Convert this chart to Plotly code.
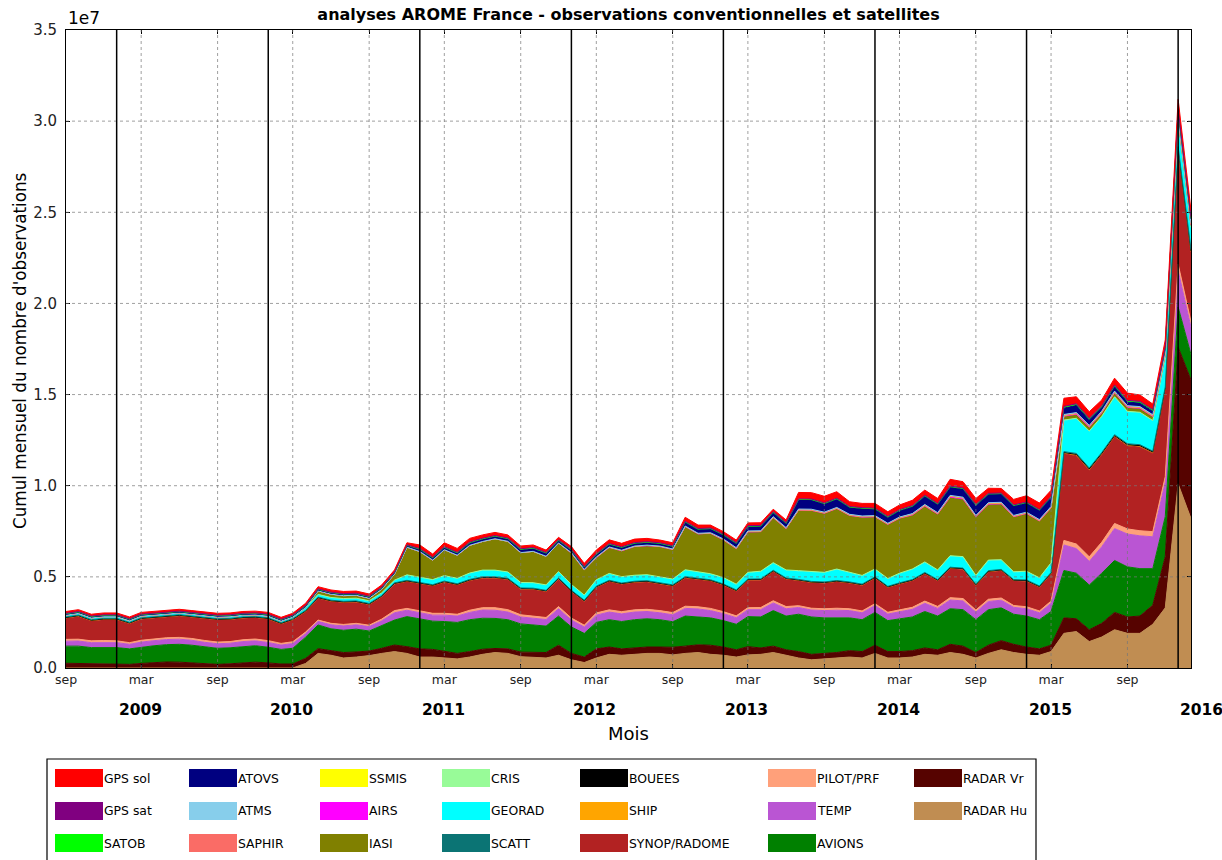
import pandas as pd
import plotly.graph_objects as go

# ---------------------------------------------------------------------------
# Monthly number of observations used by AROME France analyses (millions)
# Sep 2008 .. Feb 2016, one value per month
# ---------------------------------------------------------------------------
months = pd.date_range("2008-09-01", "2016-02-01", freq="MS")

RADAR_HU = [
    0, 0, 0, 0,
    0, 0, 0, 0, 0, 0, 0, 0, 0, 0, 0, 0,
    0, 0, 0, 0.25, 0.80, 0.70, 0.55, 0.60, 0.68, 0.80, 0.90, 0.80,
    0.60, 0.60, 0.55, 0.50, 0.60, 0.75, 0.85, 0.80, 0.62, 0.58, 0.55, 0.70,
    0.45, 0.30, 0.55, 0.75, 0.70, 0.75, 0.80, 0.80, 0.72, 0.80, 0.85, 0.75,
    0.70, 0.60, 0.72, 0.75, 0.85, 0.70, 0.55, 0.45, 0.50, 0.55, 0.60, 0.55,
    0.80, 0.55, 0.55, 0.60, 0.75, 0.70, 0.85, 0.75, 0.55, 0.80, 1.00, 0.85,
    0.75, 0.70, 0.90, 1.90, 2.00, 1.45, 1.70, 2.10, 1.90, 1.90, 2.40, 3.30,
    10.1, 8.2]

RADAR_VR = [
    0.26, 0.25, 0.22, 0.22,
    0.22, 0.20, 0.25, 0.30, 0.33, 0.32, 0.28, 0.22, 0.20, 0.23, 0.28, 0.32,
    0.28, 0.22, 0.22, 0.28, 0.26, 0.25, 0.30, 0.28, 0.25, 0.28, 0.36, 0.37,
    0.45, 0.42, 0.35, 0.30, 0.30, 0.28, 0.22, 0.25, 0.25, 0.28, 0.30, 0.55,
    0.35, 0.30, 0.50, 0.40, 0.35, 0.35, 0.35, 0.35, 0.42, 0.40, 0.42, 0.50,
    0.45, 0.40, 0.45, 0.35, 0.35, 0.30, 0.35, 0.30, 0.30, 0.30, 0.35, 0.35,
    0.45, 0.35, 0.35, 0.35, 0.35, 0.30, 0.45, 0.45, 0.30, 0.45, 0.50, 0.45,
    0.40, 0.35, 0.35, 0.85, 0.70, 0.65, 0.75, 0.95, 0.90, 0.95, 1.05, 2.80,
    7.5, 7.6]

AVIONS = [
    0.94, 0.95, 0.90, 0.92,
    0.90, 0.85, 0.90, 0.92, 0.95, 0.98, 0.97, 0.93, 0.88, 0.88, 0.90, 0.90,
    0.86, 0.80, 0.86, 1.16, 1.30, 1.20, 1.22, 1.25, 1.10, 1.25, 1.37, 1.65,
    1.65, 1.55, 1.65, 1.70, 1.75, 1.70, 1.65, 1.60, 1.55, 1.50, 1.45, 1.60,
    1.45, 1.30, 1.45, 1.50, 1.50, 1.55, 1.55, 1.50, 1.40, 1.65, 1.55, 1.50,
    1.45, 1.40, 1.65, 1.70, 1.95, 1.85, 2.05, 2.05, 1.95, 1.90, 1.80, 1.75,
    1.80, 1.70, 1.80, 1.85, 2.00, 1.85, 1.95, 2.00, 1.80, 1.95, 1.80, 1.65,
    1.70, 1.60, 1.85, 2.60, 2.50, 2.45, 2.75, 2.85, 2.75, 2.60, 2.00, 2.20,
    2.2, 1.4]

TEMP = [
    0.27, 0.28, 0.27, 0.27,
    0.27, 0.25, 0.27, 0.28, 0.28, 0.28, 0.27, 0.26, 0.25, 0.25, 0.27, 0.27,
    0.26, 0.24, 0.26, 0.20, 0.20, 0.22, 0.24, 0.24, 0.24, 0.26, 0.40, 0.35,
    0.32, 0.33, 0.35, 0.35, 0.40, 0.45, 0.45, 0.42, 0.38, 0.38, 0.36, 0.40,
    0.38, 0.35, 0.40, 0.42, 0.42, 0.42, 0.40, 0.38, 0.38, 0.42, 0.42, 0.40,
    0.38, 0.36, 0.38, 0.40, 0.42, 0.40, 0.37, 0.38, 0.40, 0.42, 0.40, 0.38,
    0.38, 0.36, 0.40, 0.42, 0.45, 0.42, 0.48, 0.48, 0.42, 0.45, 0.42, 0.38,
    0.40, 0.38, 0.45, 1.40, 1.35, 1.30, 1.45, 1.75, 1.80, 1.80, 1.75, 1.90,
    2.0, 1.5]

PILOT_PRF = [
    0.10, 0.10, 0.10, 0.10,
    0.10, 0.09, 0.10, 0.10, 0.10, 0.10, 0.10, 0.10, 0.09, 0.09, 0.10, 0.10,
    0.10, 0.09, 0.10, 0.08, 0.07, 0.08, 0.08, 0.08, 0.08, 0.09, 0.12, 0.10,
    0.10, 0.10, 0.10, 0.10, 0.12, 0.13, 0.14, 0.13, 0.12, 0.12, 0.11, 0.12,
    0.11, 0.10, 0.12, 0.12, 0.12, 0.12, 0.12, 0.12, 0.12, 0.12, 0.12, 0.12,
    0.11, 0.10, 0.11, 0.12, 0.12, 0.12, 0.10, 0.10, 0.10, 0.11, 0.10, 0.10,
    0.10, 0.10, 0.10, 0.11, 0.12, 0.11, 0.13, 0.13, 0.11, 0.12, 0.12, 0.10,
    0.11, 0.10, 0.12, 0.25, 0.25, 0.25, 0.25, 0.28, 0.28, 0.28, 0.28, 0.30,
    0.35, 0.30]

SYNOP_RADOME = [
    1.16, 1.25, 1.09, 1.14,
    1.16, 1.04, 1.16, 1.15, 1.15, 1.17, 1.16, 1.20, 1.21, 1.20, 1.18, 1.16,
    1.18, 1.06, 1.19, 1.12, 1.19, 1.20, 1.20, 1.16, 1.12, 1.22, 1.45, 1.47,
    1.50, 1.50, 1.70, 1.60, 1.62, 1.62, 1.62, 1.65, 1.40, 1.45, 1.42, 1.50,
    1.45, 1.30, 1.40, 1.55, 1.50, 1.50, 1.50, 1.45, 1.45, 1.55, 1.50, 1.50,
    1.45, 1.35, 1.50, 1.50, 1.60, 1.50, 1.37, 1.40, 1.40, 1.45, 1.40, 1.40,
    1.40, 1.35, 1.40, 1.45, 1.50, 1.40, 1.60, 1.60, 1.35, 1.50, 1.50, 1.35,
    1.40, 1.30, 1.50, 4.75, 4.85, 4.75, 4.80, 4.75, 4.55, 4.60, 4.30, 4.80,
    6.3, 3.8]

SHIP = [
    0.03, 0.03, 0.03, 0.03,
    0.03, 0.03, 0.03, 0.03, 0.03, 0.03, 0.03, 0.03, 0.03, 0.03, 0.03, 0.03,
    0.03, 0.03, 0.03, 0.03, 0.03, 0.03, 0.03, 0.03, 0.03, 0.03, 0.03, 0.03,
    0.03, 0.03, 0.03, 0.03, 0.03, 0.03, 0.03, 0.03, 0.03, 0.03, 0.03, 0.03,
    0.03, 0.03, 0.03, 0.03, 0.03, 0.03, 0.03, 0.03, 0.03, 0.03, 0.03, 0.03,
    0.03, 0.03, 0.03, 0.03, 0.03, 0.03, 0.03, 0.03, 0.03, 0.03, 0.03, 0.03,
    0.03, 0.03, 0.03, 0.03, 0.03, 0.03, 0.03, 0.03, 0.03, 0.03, 0.03, 0.03,
    0.03, 0.03, 0.03, 0.05, 0.05, 0.05, 0.05, 0.05, 0.05, 0.05, 0.05, 0.05,
    0.06, 0.06]

BOUEES = [
    0.01, 0.01, 0.01, 0.01,
    0.01, 0.01, 0.01, 0.01, 0.01, 0.01, 0.01, 0.01, 0.01, 0.01, 0.01, 0.01,
    0.01, 0.01, 0.01, 0.01, 0.01, 0.01, 0.01, 0.01, 0.01, 0.01, 0.01, 0.01,
    0.01, 0.01, 0.01, 0.01, 0.01, 0.01, 0.01, 0.01, 0.01, 0.01, 0.01, 0.01,
    0.01, 0.01, 0.01, 0.01, 0.01, 0.01, 0.01, 0.01, 0.01, 0.01, 0.01, 0.01,
    0.01, 0.01, 0.01, 0.01, 0.01, 0.01, 0.01, 0.01, 0.01, 0.01, 0.01, 0.01,
    0.01, 0.01, 0.01, 0.01, 0.01, 0.01, 0.01, 0.01, 0.01, 0.01, 0.01, 0.01,
    0.01, 0.01, 0.01, 0.02, 0.02, 0.02, 0.02, 0.02, 0.02, 0.02, 0.02, 0.02,
    0.02, 0.02]

SCATT = [
    0.03, 0.03, 0.03, 0.03,
    0.03, 0.03, 0.03, 0.03, 0.03, 0.03, 0.03, 0.03, 0.03, 0.03, 0.03, 0.03,
    0.03, 0.03, 0.03, 0.03, 0.03, 0.03, 0.03, 0.03, 0.03, 0.03, 0.03, 0.03,
    0.03, 0.03, 0.03, 0.03, 0.03, 0.03, 0.03, 0.03, 0.03, 0.03, 0.03, 0.03,
    0.03, 0.03, 0.03, 0.03, 0.03, 0.03, 0.03, 0.03, 0.03, 0.03, 0.03, 0.03,
    0.03, 0.03, 0.03, 0.03, 0.03, 0.03, 0.03, 0.03, 0.03, 0.03, 0.03, 0.03,
    0.03, 0.03, 0.03, 0.03, 0.03, 0.03, 0.03, 0.03, 0.03, 0.03, 0.03, 0.03,
    0.03, 0.03, 0.03, 0.05, 0.05, 0.05, 0.05, 0.05, 0.05, 0.05, 0.05, 0.05,
    0.07, 0.07]

GEORAD = [
    0.10, 0.10, 0.10, 0.10,
    0.10, 0.10, 0.10, 0.10, 0.10, 0.10, 0.10, 0.10, 0.10, 0.10, 0.10, 0.10,
    0.10, 0.10, 0.10, 0.15, 0.15, 0.15, 0.15, 0.15, 0.15, 0.15, 0.15, 0.30,
    0.30, 0.28, 0.30, 0.30, 0.35, 0.37, 0.37, 0.35, 0.30, 0.30, 0.30, 0.35,
    0.32, 0.28, 0.35, 0.38, 0.35, 0.33, 0.33, 0.32, 0.32, 0.38, 0.36, 0.33,
    0.33, 0.30, 0.35, 0.40, 0.40, 0.42, 0.45, 0.50, 0.50, 0.60, 0.50, 0.45,
    0.40, 0.40, 0.50, 0.55, 0.55, 0.50, 0.60, 0.60, 0.45, 0.55, 0.50, 0.40,
    0.45, 0.42, 0.50, 1.70, 1.90, 2.00, 1.95, 2.05, 1.75, 1.75, 1.65, 1.60,
    1.4, 1.2]

CRIS = [
    0, 0, 0, 0,
    0, 0, 0, 0, 0, 0, 0, 0, 0, 0, 0, 0,
    0, 0, 0, 0, 0, 0, 0, 0, 0, 0, 0, 0,
    0, 0, 0, 0, 0, 0, 0, 0, 0, 0, 0, 0,
    0, 0, 0, 0, 0, 0, 0, 0, 0, 0, 0, 0,
    0.02, 0.02, 0.02, 0.02, 0.02, 0.02, 0.03, 0.03, 0.03, 0.03, 0.03, 0.03,
    0.03, 0.03, 0.03, 0.03, 0.03, 0.03, 0.03, 0.03, 0.03, 0.03, 0.03, 0.03,
    0.03, 0.03, 0.03, 0.03, 0.03, 0.03, 0.03, 0.03, 0.03, 0.03, 0.03, 0.03,
    0.03, 0.03]

IASI = [
    0, 0, 0, 0,
    0, 0, 0, 0, 0, 0, 0, 0, 0, 0, 0, 0,
    0, 0, 0, 0, 0.18, 0.17, 0.15, 0.15, 0.13, 0.19, 0.32, 1.50,
    1.38, 1.05, 1.40, 1.25, 1.50, 1.55, 1.70, 1.66, 1.62, 1.70, 1.55, 1.55,
    1.70, 1.36, 1.20, 1.40, 1.40, 1.55, 1.57, 1.65, 1.60, 2.35, 2.05, 2.20,
    2.05, 1.93, 2.20, 2.15, 2.45, 2.25, 3.30, 3.35, 3.22, 3.30, 3.10, 3.18,
    2.85, 2.95, 3.00, 2.95, 3.05, 3.05, 3.20, 3.15, 3.20, 3.05, 3.05, 3.00,
    3.15, 3.10, 3.00, 0.20, 0.20, 0.20, 0.18, 0.20, 0.20, 0.20, 0.20, 0.15,
    0.10, 0.10]

AIRS = [
    0, 0, 0, 0,
    0, 0, 0, 0, 0, 0, 0, 0, 0, 0, 0, 0,
    0, 0, 0, 0.01, 0.01, 0.01, 0.01, 0.01, 0.01, 0.01, 0.01, 0.02,
    0.02, 0.02, 0.02, 0.02, 0.02, 0.02, 0.02, 0.02, 0.02, 0.02, 0.02, 0.02,
    0.02, 0.02, 0.02, 0.02, 0.02, 0.02, 0.02, 0.02, 0.02, 0.02, 0.02, 0.02,
    0.02, 0.02, 0.02, 0.02, 0.02, 0.02, 0.02, 0.02, 0.02, 0.02, 0.02, 0.02,
    0.02, 0.02, 0.02, 0.02, 0.02, 0.02, 0.02, 0.02, 0.02, 0.02, 0.02, 0.02,
    0.02, 0.02, 0.02, 0.02, 0.02, 0.02, 0.02, 0.02, 0.02, 0.02, 0.02, 0.02,
    0.02, 0.02]

SSMIS = [
    0, 0, 0, 0,
    0, 0, 0, 0, 0, 0, 0, 0, 0, 0, 0, 0,
    0, 0, 0, 0, 0, 0, 0, 0, 0, 0, 0, 0,
    0, 0, 0, 0, 0, 0, 0, 0, 0, 0, 0, 0,
    0.02, 0.02, 0.02, 0.02, 0.02, 0.02, 0.02, 0.02, 0.02, 0.02, 0.02, 0.02,
    0.02, 0.02, 0.02, 0.02, 0.02, 0.02, 0.02, 0.02, 0.02, 0.02, 0.02, 0.02,
    0.02, 0.02, 0.02, 0.03, 0.04, 0.03, 0.05, 0.05, 0.03, 0.04, 0.04, 0.03,
    0.03, 0.03, 0.03, 0.04, 0.04, 0.04, 0.04, 0.04, 0.04, 0.04, 0.04, 0.04,
    0.04, 0.04]

SAPHIR = [
    0, 0, 0, 0,
    0, 0, 0, 0, 0, 0, 0, 0, 0, 0, 0, 0,
    0, 0, 0, 0, 0, 0, 0, 0, 0, 0, 0, 0,
    0, 0, 0, 0, 0, 0, 0, 0, 0, 0, 0, 0,
    0.01, 0.01, 0.01, 0.01, 0.01, 0.01, 0.01, 0.01, 0.01, 0.01, 0.01, 0.01,
    0.01, 0.01, 0.01, 0.01, 0.01, 0.01, 0.01, 0.01, 0.01, 0.01, 0.01, 0.01,
    0.01, 0.01, 0.01, 0.01, 0.01, 0.01, 0.01, 0.01, 0.01, 0.01, 0.01, 0.01,
    0.01, 0.01, 0.01, 0.01, 0.01, 0.01, 0.01, 0.01, 0.01, 0.01, 0.01, 0.01,
    0.01, 0.01]

ATMS = [
    0, 0, 0, 0,
    0, 0, 0, 0, 0, 0, 0, 0, 0, 0, 0, 0,
    0, 0, 0, 0, 0, 0, 0, 0, 0, 0, 0, 0,
    0, 0, 0, 0, 0, 0, 0, 0, 0, 0, 0, 0,
    0, 0, 0, 0, 0, 0, 0, 0, 0, 0, 0, 0,
    0.02, 0.02, 0.02, 0.02, 0.02, 0.02, 0.03, 0.03, 0.03, 0.03, 0.03, 0.03,
    0.03, 0.03, 0.03, 0.03, 0.03, 0.03, 0.03, 0.03, 0.03, 0.03, 0.03, 0.03,
    0.03, 0.03, 0.03, 0.04, 0.04, 0.04, 0.04, 0.04, 0.04, 0.04, 0.04, 0.04,
    0.04, 0.04]

ATOVS = [
    0.05, 0.05, 0.05, 0.05,
    0.05, 0.05, 0.05, 0.05, 0.05, 0.05, 0.05, 0.05, 0.05, 0.05, 0.05, 0.05,
    0.05, 0.05, 0.05, 0.06, 0.06, 0.06, 0.06, 0.06, 0.06, 0.06, 0.06, 0.08,
    0.10, 0.10, 0.11, 0.10, 0.12, 0.12, 0.12, 0.12, 0.15, 0.15, 0.15, 0.12,
    0.12, 0.10, 0.12, 0.13, 0.13, 0.13, 0.13, 0.12, 0.12, 0.20, 0.20, 0.20,
    0.20, 0.22, 0.23, 0.23, 0.22, 0.22, 0.50, 0.50, 0.45, 0.45, 0.37, 0.40,
    0.35, 0.32, 0.35, 0.38, 0.45, 0.45, 0.45, 0.45, 0.55, 0.45, 0.45, 0.52,
    0.50, 0.50, 0.50, 0.35, 0.40, 0.30, 0.20, 0.25, 0.20, 0.20, 0.20, 0.20,
    0.30, 0.25]

SATOB = [
    0.03, 0.03, 0.03, 0.03,
    0.03, 0.03, 0.03, 0.03, 0.03, 0.03, 0.03, 0.03, 0.03, 0.03, 0.03, 0.03,
    0.03, 0.03, 0.03, 0.03, 0.03, 0.03, 0.03, 0.03, 0.03, 0.03, 0.03, 0.03,
    0.03, 0.03, 0.03, 0.03, 0.03, 0.03, 0.03, 0.03, 0.03, 0.03, 0.03, 0.03,
    0.03, 0.03, 0.03, 0.03, 0.03, 0.03, 0.03, 0.03, 0.03, 0.03, 0.03, 0.03,
    0.03, 0.03, 0.03, 0.03, 0.03, 0.03, 0.03, 0.03, 0.03, 0.03, 0.03, 0.03,
    0.03, 0.03, 0.03, 0.03, 0.03, 0.03, 0.03, 0.03, 0.03, 0.03, 0.03, 0.03,
    0.03, 0.03, 0.03, 0.05, 0.05, 0.05, 0.05, 0.05, 0.05, 0.05, 0.05, 0.05,
    0.06, 0.05]

GPS_SAT = [
    0.02, 0.02, 0.02, 0.02,
    0.02, 0.02, 0.02, 0.02, 0.02, 0.02, 0.02, 0.02, 0.02, 0.02, 0.02, 0.02,
    0.02, 0.02, 0.02, 0.02, 0.02, 0.02, 0.02, 0.02, 0.02, 0.02, 0.02, 0.02,
    0.03, 0.03, 0.03, 0.03, 0.03, 0.03, 0.03, 0.03, 0.03, 0.03, 0.03, 0.03,
    0.03, 0.03, 0.03, 0.03, 0.03, 0.03, 0.03, 0.03, 0.03, 0.03, 0.03, 0.03,
    0.03, 0.03, 0.03, 0.03, 0.03, 0.03, 0.03, 0.03, 0.03, 0.03, 0.03, 0.03,
    0.03, 0.03, 0.03, 0.03, 0.03, 0.03, 0.03, 0.03, 0.03, 0.03, 0.03, 0.03,
    0.03, 0.03, 0.03, 0.04, 0.04, 0.04, 0.04, 0.04, 0.04, 0.04, 0.04, 0.04,
    0.05, 0.04]

GPS_SOL = [
    0.10, 0.10, 0.10, 0.10,
    0.10, 0.10, 0.10, 0.10, 0.10, 0.10, 0.10, 0.10, 0.10, 0.10, 0.10, 0.10,
    0.10, 0.10, 0.10, 0.12, 0.12, 0.12, 0.12, 0.12, 0.12, 0.12, 0.12, 0.11,
    0.20, 0.17, 0.21, 0.21, 0.20, 0.18, 0.17, 0.17, 0.15, 0.14, 0.13, 0.13,
    0.15, 0.17, 0.20, 0.20, 0.19, 0.19, 0.18, 0.15, 0.16, 0.22, 0.19, 0.16,
    0.14, 0.14, 0.15, 0.15, 0.13, 0.14, 0.35, 0.35, 0.36, 0.35, 0.26, 0.23,
    0.26, 0.25, 0.25, 0.29, 0.28, 0.27, 0.37, 0.34, 0.32, 0.28, 0.25, 0.30,
    0.34, 0.35, 0.33, 0.45, 0.38, 0.36, 0.32, 0.37, 0.40, 0.35, 0.30, 0.40,
    0.55, 0.37]

# stacking order, bottom to top: (label, values, colour)
STACK = [
    ("RADAR Hu", RADAR_HU, "#c08d52"),
    ("RADAR Vr", RADAR_VR, "#560300"),
    ("AVIONS", AVIONS, "#008000"),
    ("TEMP", TEMP, "#ba55d3"),
    ("PILOT/PRF", PILOT_PRF, "#ffa07a"),
    ("SYNOP/RADOME", SYNOP_RADOME, "#b22222"),
    ("SHIP", SHIP, "#ffa500"),
    ("BOUEES", BOUEES, "#000000"),
    ("SCATT", SCATT, "#0b7474"),
    ("GEORAD", GEORAD, "#00ffff"),
    ("CRIS", CRIS, "#98fb98"),
    ("IASI", IASI, "#808000"),
    ("AIRS", AIRS, "#ff00ff"),
    ("SSMIS", SSMIS, "#ffff00"),
    ("SAPHIR", SAPHIR, "#fa6c66"),
    ("ATMS", ATMS, "#87ceeb"),
    ("ATOVS", ATOVS, "#000080"),
    ("SATOB", SATOB, "#00ff00"),
    ("GPS sat", GPS_SAT, "#800080"),
    ("GPS sol", GPS_SOL, "#ff0000"),
]

# axis labelling
TICK_DATES = ["2008-09-01", "2009-03-01", "2009-09-01", "2010-03-01",
              "2010-09-01", "2011-03-01", "2011-09-01", "2012-03-01",
              "2012-09-01", "2013-03-01", "2013-09-01", "2014-03-01",
              "2014-09-01", "2015-03-01", "2015-09-01"]
TICK_TEXT = ["sep", "mar", "sep", "mar", "sep", "mar", "sep", "mar",
             "sep", "mar", "sep", "mar", "sep", "mar", "sep"]
YEAR_STARTS = ["2009-01-01", "2010-01-01", "2011-01-01", "2012-01-01",
               "2013-01-01", "2014-01-01", "2015-01-01", "2016-01-01"]
YEAR_TEXT = ["2009", "2010", "2011", "2012", "2013", "2014", "2015", "2016"]
Y_TICKS = [0, 5e6, 1e7, 1.5e7, 2e7, 2.5e7, 3e7, 3.5e7]
Y_TEXT = ["0.0", "0.5", "1.0", "1.5", "2.0", "2.5", "3.0", "3.5"]
SCALE = 1e6  # values above are in millions

# ---------------------------------------------------------------------------
W, H = 1222, 860
ML, MR, MT, MB = 66, 31, 30, 192
PW, PH = W - ML - MR, H - MT - MB
FONT = "DejaVu Sans"


def px(x):
    """figure pixel column -> paper x"""
    return (x - ML) / PW


def py(y):
    """figure pixel row -> paper y"""
    return (H - MB - y) / PH


fig = go.Figure()
for name, vals, color in STACK:
    fig.add_trace(go.Scatter(
        x=months, y=[v * SCALE for v in vals], name=name, mode="lines",
        stackgroup="obs", line=dict(color=color, width=1),
        fillcolor=color, showlegend=False))

shapes = []
# dotted grid drawn over the areas
GRID = dict(color="rgba(120,120,120,0.7)", width=1, dash="dot")
for d in TICK_DATES[1:]:
    shapes.append(dict(type="line", xref="x", yref="paper", x0=d, x1=d,
                       y0=0, y1=1, layer="above", line=GRID))
for v in Y_TICKS[1:-1]:
    shapes.append(dict(type="line", xref="paper", yref="y", x0=0, x1=1,
                       y0=v, y1=v, layer="above", line=GRID))
# year separators
for d in YEAR_STARTS:
    shapes.append(dict(type="line", xref="x", yref="paper", x0=d, x1=d,
                       y0=0, y1=1, layer="above",
                       line=dict(color="black", width=1.5)))

annotations = []
for d, t in zip(YEAR_STARTS, YEAR_TEXT):
    annotations.append(dict(x=d, xref="x", y=py(710), yref="paper",
                            text="<b>%s</b>" % t, showarrow=False,
                            xanchor="left", yanchor="middle",
                            font=dict(family=FONT, size=15.5, color="black")))
annotations.append(dict(x=0.5, xref="paper", y=py(733), yref="paper",
                        text="Mois", showarrow=False, xanchor="center",
                        yanchor="middle",
                        font=dict(family=FONT, size=18, color="black")))
annotations.append(dict(x=px(20), xref="paper", y=py(351), yref="paper",
                        text="Cumul mensuel du nombre d'observations",
                        textangle=-90, showarrow=False, xanchor="center",
                        yanchor="middle",
                        font=dict(family=FONT, size=16.8, color="black")))
annotations.append(dict(x=0, xref="paper", y=1, yref="paper", text="1e7",
                        showarrow=False, xanchor="left", yanchor="bottom",
                        font=dict(family=FONT, size=17, color="black")))

# legend box (three rows, filled column by column, top of the stack first)
LEG_COL_X = [55, 189, 320, 442, 580, 768, 914]
LEG_ROW_Y = [778, 811, 843]
PATCH_W, PATCH_H = 48, 18
shapes.append(dict(type="rect", xref="paper", yref="paper",
                   x0=px(47), x1=px(1036), y0=py(759), y1=py(866),
                   line=dict(color="black", width=1.2),
                   fillcolor="white", layer="above"))
for k, (name, _vals, color) in enumerate(reversed(STACK)):
    cx = LEG_COL_X[k // 3]
    cy = LEG_ROW_Y[k % 3]
    shapes.append(dict(type="rect", xref="paper", yref="paper",
                       x0=px(cx), x1=px(cx + PATCH_W),
                       y0=py(cy + PATCH_H / 2), y1=py(cy - PATCH_H / 2),
                       line=dict(width=0), fillcolor=color, layer="above"))
    annotations.append(dict(x=px(cx + PATCH_W - 1.5), xref="paper", y=py(cy),
                            yref="paper", text=name, showarrow=False,
                            xanchor="left", yanchor="middle",
                            font=dict(family=FONT, size=12.4, color="black")))

fig.update_layout(
    width=W, height=H,
    margin=dict(l=ML, r=MR, t=MT, b=MB),
    paper_bgcolor="white", plot_bgcolor="white",
    font=dict(family=FONT, color="black"),
    showlegend=False,
    title=dict(text="<b>analyses AROME France - observations "
                    "conventionnelles et satellites</b>",
               x=0.5, xref="paper", xanchor="center",
               y=1 - 14 / H, yref="container", yanchor="middle",
               font=dict(family=FONT, size=16, color="black")),
    xaxis=dict(type="date", range=[months[0], months[-1]],
               tickmode="array", tickvals=TICK_DATES, ticktext=TICK_TEXT,
               ticks="inside", ticklen=4, tickwidth=1, tickcolor="black",
               showline=True, linecolor="black", linewidth=1, mirror="ticks",
               showgrid=False, zeroline=False,
               tickfont=dict(family=FONT, size=12.5, color="#222")),
    yaxis=dict(range=[0, 3.5e7], tickmode="array", tickvals=Y_TICKS,
               ticktext=Y_TEXT, ticks="inside", ticklen=4, tickwidth=1,
               tickcolor="black", showline=True, linecolor="black",
               linewidth=1, mirror="ticks", showgrid=False, zeroline=False,
               ticklabelstandoff=5,
               tickfont=dict(family=FONT, size=15, color="#222")),
    shapes=shapes,
    annotations=annotations,
)

fig.write_html("out.html")
